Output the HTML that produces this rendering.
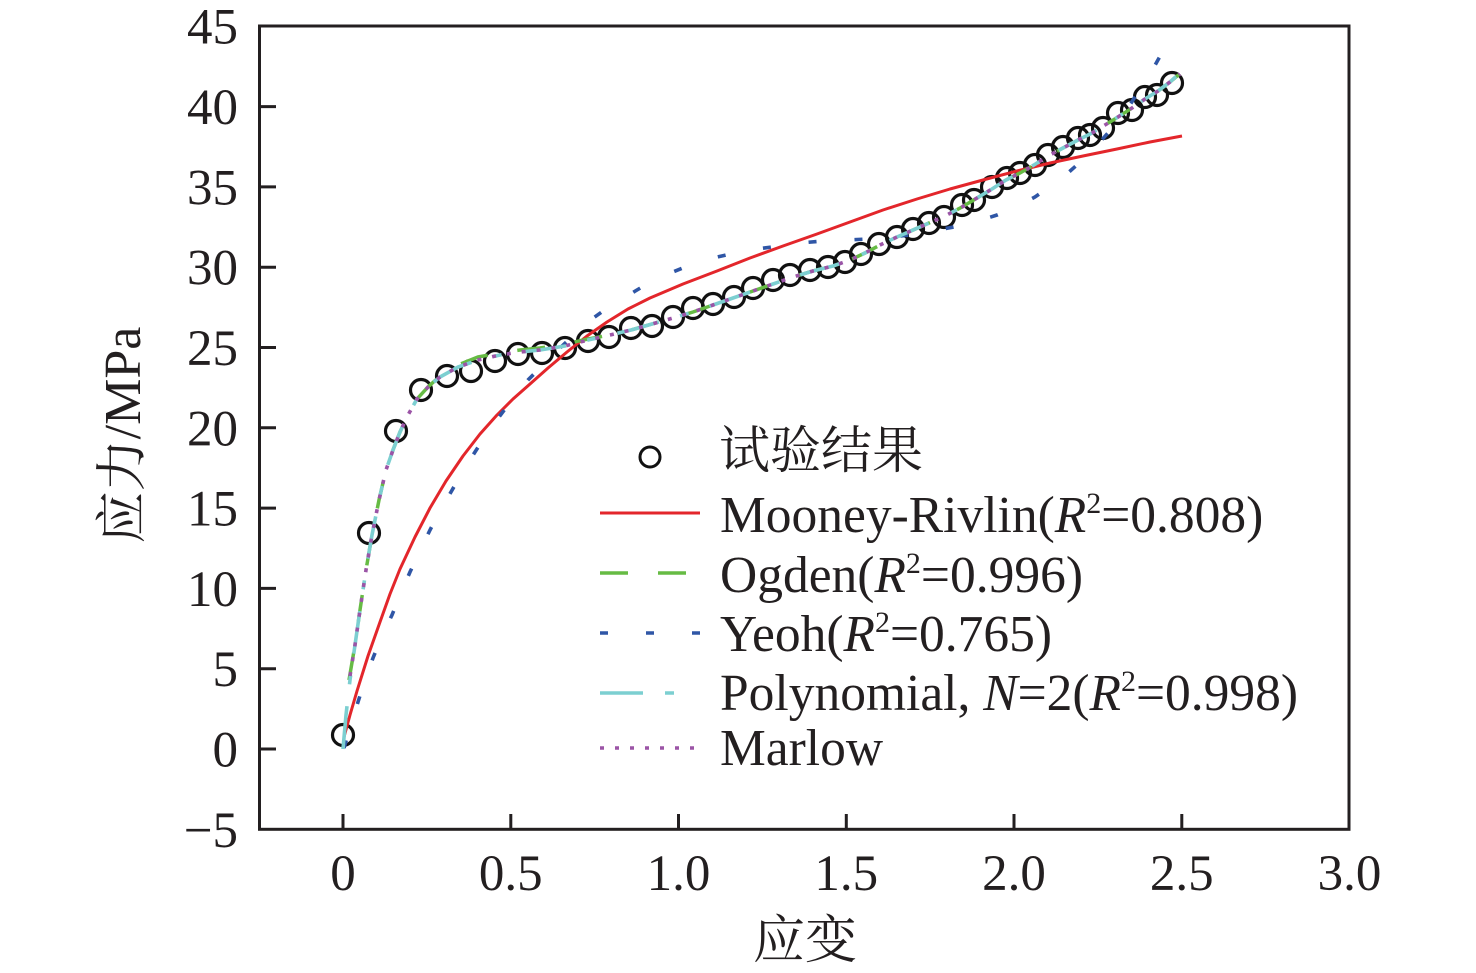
<!DOCTYPE html>
<html>
<head>
<meta charset="utf-8">
<style>
  html,body{margin:0;padding:0;background:#fff;}
  svg{display:block;}
  text{font-family:"Liberation Serif","Noto Serif CJK SC",serif;fill:#231f20;}
</style>
</head>
<body>
<svg width="1476" height="973" viewBox="0 0 1476 973" xmlns="http://www.w3.org/2000/svg">
  <rect x="0" y="0" width="1476" height="973" fill="#fff"/>

  <g fill="none" stroke="#111" stroke-width="3.2">
    <circle cx="343" cy="735" r="10.5"/>
    <circle cx="369" cy="533" r="10.5"/>
    <circle cx="396" cy="431" r="10.5"/>
    <circle cx="421" cy="390" r="10.5"/>
    <circle cx="447" cy="376" r="10.5"/>
    <circle cx="471" cy="371" r="10.5"/>
    <circle cx="495" cy="361" r="10.5"/>
    <circle cx="518" cy="354" r="10.5"/>
    <circle cx="542" cy="353" r="10.5"/>
    <circle cx="565" cy="348" r="10.5"/>
    <circle cx="588" cy="341" r="10.5"/>
    <circle cx="609" cy="337" r="10.5"/>
    <circle cx="631" cy="328" r="10.5"/>
    <circle cx="652" cy="326" r="10.5"/>
    <circle cx="673" cy="317" r="10.5"/>
    <circle cx="693" cy="308" r="10.5"/>
    <circle cx="713" cy="304" r="10.5"/>
    <circle cx="734" cy="297" r="10.5"/>
    <circle cx="753" cy="288" r="10.5"/>
    <circle cx="773" cy="280" r="10.5"/>
    <circle cx="790" cy="275" r="10.5"/>
    <circle cx="810" cy="270" r="10.5"/>
    <circle cx="828" cy="267" r="10.5"/>
    <circle cx="845" cy="262" r="10.5"/>
    <circle cx="861" cy="254" r="10.5"/>
    <circle cx="879" cy="244" r="10.5"/>
    <circle cx="897" cy="237" r="10.5"/>
    <circle cx="913" cy="229" r="10.5"/>
    <circle cx="929" cy="223" r="10.5"/>
    <circle cx="944" cy="217" r="10.5"/>
    <circle cx="962" cy="205" r="10.5"/>
    <circle cx="974" cy="200" r="10.5"/>
    <circle cx="992" cy="187" r="10.5"/>
    <circle cx="1007" cy="178" r="10.5"/>
    <circle cx="1020" cy="173" r="10.5"/>
    <circle cx="1035" cy="165" r="10.5"/>
    <circle cx="1048" cy="155" r="10.5"/>
    <circle cx="1063" cy="147" r="10.5"/>
    <circle cx="1078" cy="138" r="10.5"/>
    <circle cx="1090" cy="135" r="10.5"/>
    <circle cx="1103" cy="128" r="10.5"/>
    <circle cx="1118" cy="113" r="10.5"/>
    <circle cx="1132" cy="110" r="10.5"/>
    <circle cx="1145" cy="97" r="10.5"/>
    <circle cx="1157" cy="95" r="10.5"/>
    <circle cx="1172" cy="83" r="10.5"/>
  </g>

  <polyline fill="none" stroke="#e3262b" stroke-width="3" stroke-linejoin="round"
    points="344,737 350,715 357,691 368,656 380,622 390,594 400,569 415,537 430,508 446,481 463,456 480,434 497,415 513,399 530,384 548,368 567,352 587,336 607,322 628,309 650,298 683,284 717,271 750,258 783,246 817,234 850,222 883,210 917,199 950,189 983,180 1017,171 1050,163 1083,156 1117,149 1150,142 1182,136"/>

  <polyline fill="none" stroke="#2f56a6" stroke-width="3.6" stroke-dasharray="8 38"
    points="344,748 351,724 358,702 365,680 373,658 382,636 392,615 401,593 410,572 420,551 430,530 440,511 451,492 463,471 475,452 488,432 502,413 515,396 528,380 544,364 560,348 576,333 592,319 610,306 627,296 647,284 668,274 690,265 713,258 735,253 757,249 779,246 800,243 823,241 846,240 868,239 890,237 911,235 932,231 954,227 975,222 997,215 1018,206 1035,197 1052,185 1069,172 1086,157 1100,142 1115,125 1128,108 1140,89 1154,67 1168,42"/>

  <polyline fill="none" stroke="#66bb44" stroke-width="3.5" stroke-dasharray="28 30"
    points="349,680 355,645 360,610 366,570 372,535 379,500 386,470 393,450 400,432 408,415 417,399 428,387 440,376 458,365 478,357 500,353 520,350 540,348 565,344 588,339 610,335 631,330 652,324 673,318 693,312 713,305 733,298 753,291 773,284 793,277 813,271 833,266 850,260 865,253 880,245 897,237 913,230 929,223 945,216 962,207 977,198 992,189 1006,180 1020,173 1034,165 1048,156 1063,148 1078,140 1092,133 1105,125 1118,117 1132,108 1145,99 1158,91 1170,82 1182,72"/>

  <polyline fill="none" stroke="#7ccfd1" stroke-width="3.6" stroke-dasharray="43 22 9 22"
    points="343,749 346,715 350,680 355,645 360,610 366,570 372,535 379,500 386,470 393,450 400,432 408,415 417,399 428,387 440,377 458,367 478,360 500,355 520,352 540,350 565,346 588,340 610,335 631,330 652,324 673,318 693,312 713,305 733,298 753,291 773,284 793,277 813,271 833,266 850,260 865,253 880,245 897,237 913,230 929,223 945,216 962,207 977,198 992,189 1006,180 1020,173 1034,165 1048,156 1063,148 1078,140 1092,133 1105,125 1118,117 1132,108 1145,99 1158,91 1170,82 1182,71"/>

  <polyline fill="none" stroke="#9b54a6" stroke-width="3.6" stroke-dasharray="4 11"
    points="350,676 355,645 360,610 366,570 372,535 379,500 386,470 393,450 400,432 408,415 417,399 428,387 440,377 458,367 478,360 500,355 520,352 540,350 565,346 588,340 610,335 631,330 652,324 673,318 693,312 713,305 733,298 753,291 773,284 793,277 813,271 833,266 850,260 865,253 880,245 897,237 913,230 929,223 945,216 962,207 977,198 992,189 1006,180 1020,173 1034,165 1048,156 1063,148 1078,140 1092,133 1105,125 1118,117 1132,108 1145,99 1158,91 1170,82 1180,74"/>

  <rect x="259.5" y="26" width="1089.5" height="803.3" fill="none" stroke="#231f20" stroke-width="3"/>
  <g stroke="#231f20" stroke-width="3">
    <line x1="259.5" y1="106.6" x2="276" y2="106.6"/>
    <line x1="259.5" y1="186.9" x2="276" y2="186.9"/>
    <line x1="259.5" y1="267.2" x2="276" y2="267.2"/>
    <line x1="259.5" y1="347.5" x2="276" y2="347.5"/>
    <line x1="259.5" y1="427.8" x2="276" y2="427.8"/>
    <line x1="259.5" y1="508.1" x2="276" y2="508.1"/>
    <line x1="259.5" y1="588.4" x2="276" y2="588.4"/>
    <line x1="259.5" y1="668.7" x2="276" y2="668.7"/>
    <line x1="259.5" y1="749" x2="276" y2="749"/>
    <line x1="343" y1="829" x2="343" y2="814"/>
    <line x1="510.8" y1="829" x2="510.8" y2="814"/>
    <line x1="678.5" y1="829" x2="678.5" y2="814"/>
    <line x1="846.3" y1="829" x2="846.3" y2="814"/>
    <line x1="1014" y1="829" x2="1014" y2="814"/>
    <line x1="1181.8" y1="829" x2="1181.8" y2="814"/>
  </g>

  <g font-size="51" text-anchor="end">
    <text x="238" y="43.5">45</text>
    <text x="238" y="124">40</text>
    <text x="238" y="204.4">35</text>
    <text x="238" y="284.7">30</text>
    <text x="238" y="365">25</text>
    <text x="238" y="445.3">20</text>
    <text x="238" y="525.6">15</text>
    <text x="238" y="605.9">10</text>
    <text x="238" y="686.2">5</text>
    <text x="238" y="766.5">0</text>
    <text x="238" y="846.8">−5</text>
  </g>
  <g font-size="51" text-anchor="middle">
    <text x="343" y="890">0</text>
    <text x="510.8" y="890">0.5</text>
    <text x="678.5" y="890">1.0</text>
    <text x="846.3" y="890">1.5</text>
    <text x="1014" y="890">2.0</text>
    <text x="1181.8" y="890">2.5</text>
    <text x="1349.5" y="890">3.0</text>
  </g>

  <text x="805" y="958" font-size="52" text-anchor="middle">应变</text>
  <text transform="translate(140,435) rotate(-90)" font-size="52" text-anchor="middle">应力/MPa</text>

  <circle cx="650" cy="457" r="10" fill="none" stroke="#111" stroke-width="3"/>
  <text x="719" y="468" font-size="51">试验结果</text>

  <line x1="600" y1="513" x2="700" y2="513" stroke="#e3262b" stroke-width="3"/>
  <text x="720" y="532" font-size="51.5">Mooney-Rivlin(<tspan font-style="italic">R</tspan><tspan font-size="30" dy="-19">2</tspan><tspan dy="19">=0.808)</tspan></text>

  <line x1="600" y1="573" x2="700" y2="573" stroke="#66bb44" stroke-width="3.5" stroke-dasharray="28 30"/>
  <text x="720" y="592" font-size="51.5">Ogden(<tspan font-style="italic">R</tspan><tspan font-size="30" dy="-19">2</tspan><tspan dy="19">=0.996)</tspan></text>

  <line x1="600" y1="633" x2="700" y2="633" stroke="#2f56a6" stroke-width="3.6" stroke-dasharray="8 38"/>
  <text x="720" y="651" font-size="51.5">Yeoh(<tspan font-style="italic">R</tspan><tspan font-size="30" dy="-19">2</tspan><tspan dy="19">=0.765)</tspan></text>

  <line x1="600" y1="693" x2="694" y2="693" stroke="#7ccfd1" stroke-width="3.6" stroke-dasharray="43 22 9 22"/>
  <text x="720" y="710" font-size="51.5">Polynomial, <tspan font-style="italic">N</tspan>=2(<tspan font-style="italic">R</tspan><tspan font-size="30" dy="-19">2</tspan><tspan dy="19">=0.998)</tspan></text>

  <line x1="600" y1="748" x2="700" y2="748" stroke="#9b54a6" stroke-width="3.6" stroke-dasharray="4 11"/>
  <text x="720" y="765" font-size="51.5">Marlow</text>
</svg>
</body>
</html>
